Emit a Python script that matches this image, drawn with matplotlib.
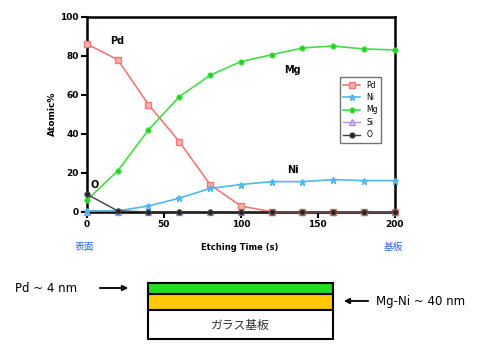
#XPS depth profile of Pd / Mg-Ni thin film on glass, plus layer sketch
import matplotlib.pyplot as plt
from matplotlib.patches import Rectangle

plt.rcParams['font.family'] = ['DejaVu Sans', 'Noto Sans CJK JP']

time = [0, 20, 40, 60, 80, 100, 120, 140, 160, 180, 200]

#----------atomic % per element / read from profile-----------------
Pd = [86, 78, 55, 36, 14, 3, 0, 0, 0, 0, 0]
Ni = [0.5, 0.5, 3, 7, 12, 14, 15.5, 15.5, 16.5, 16, 16]
Mg = [6, 21, 42, 59, 70, 77, 80.5, 84, 85, 83.5, 83]
Si = [0, 0, 0, 0, 0, 0, 0, 0, 0, 0, 0]
O = [9, 0.5, 0, 0, 0, 0, 0, 0, 0, 0, 0]

xticks = [0, 50, 100, 150, 200]
yticks = [0, 20, 40, 60, 80, 100]

fig = plt.figure(figsize=(4.94, 3.49), dpi=100)
ax = fig.add_axes([0.176, 0.393, 0.623, 0.559])

ax.plot(time, Si, marker='^', color='#b48ce8', mfc='#d8c4f4', ms=4, lw=1, label='Si', clip_on=False, zorder=2)
ax.plot(time, Pd, marker='s', color='#f07878', mfc='#f8b0b0', ms=5, lw=1.2, label='Pd', clip_on=False, zorder=3)
ax.plot(time, Ni, marker='*', color='#50b8ea', mfc='#50b8ea', ms=5, lw=1.2, label='Ni', clip_on=False, zorder=3)
ax.plot(time, Mg, marker='o', color='#44dd44', mfc='#22cc22', ms=3.5, lw=1.2, label='Mg', clip_on=False, zorder=3)
ax.plot(time, O, marker='o', color='#404040', mfc='#202020', ms=3.5, lw=1, label='O', clip_on=False, zorder=4)

ax.set_xlim(0, 200)
ax.set_ylim(0, 100)
ax.set_xticks(xticks)
ax.set_yticks(yticks)
for s in ax.spines.values():
    s.set_linewidth(1.8)
ax.tick_params(width=1.5, length=4, labelsize=6.5, pad=2)
for t in ax.get_xticklabels() + ax.get_yticklabels():
    t.set_fontweight('bold')
ax.set_ylabel('Atomic%', fontsize=6.5, fontweight='bold', labelpad=2)

# element names next to the curves
ax.text(15, 86, 'Pd', fontsize=7, fontweight='bold')
ax.text(128, 71, 'Mg', fontsize=7, fontweight='bold')
ax.text(130, 20, 'Ni', fontsize=7, fontweight='bold')
ax.text(2, 12, 'O', fontsize=7, fontweight='bold')

h, l = ax.get_legend_handles_labels()
order = [l.index(k) for k in ['Pd', 'Ni', 'Mg', 'Si', 'O']]
leg = ax.legend([h[i] for i in order], [l[i] for i in order], loc='upper left',
                bbox_to_anchor=(0.81, 0.71), fontsize=5.5, frameon=True, fancybox=False,
                edgecolor='#505050', handlelength=2.2, borderpad=0.45, labelspacing=0.45)
leg.get_frame().set_linewidth(1.0)

# labels under the x axis
fig.text(240 / 494, 1 - 247 / 349, 'Etching Time (s)', fontsize=6, fontweight='bold',
         ha='center', va='center')
fig.text(84 / 494, 1 - 247 / 349, '表面', fontsize=7, color='#3366ee', ha='center', va='center',
         family=['Noto Sans CJK JP', 'DejaVu Sans'])
fig.text(393 / 494, 1 - 247 / 349, '基板', fontsize=7, color='#3366ee', ha='center', va='center',
         family=['Noto Sans CJK JP', 'DejaVu Sans'])

#------layer sketch----------
sk = fig.add_axes([0, 0, 1, 1], zorder=-1)
sk.set_xlim(0, 494)
sk.set_ylim(349, 0)
sk.axis('off')
sk.add_patch(Rectangle((148, 283), 185, 11, facecolor='#22dd22', edgecolor='black', lw=1.5))
sk.add_patch(Rectangle((148, 294), 185, 16, facecolor='#ffc800', edgecolor='black', lw=1.5))
sk.add_patch(Rectangle((148, 310), 185, 29, facecolor='white', edgecolor='black', lw=1.5))
sk.text(240, 325, 'ガラス基板', fontsize=8.5, ha='center', va='center', color='#303030',
        family=['Noto Sans CJK JP', 'DejaVu Sans'])
sk.text(15, 288, 'Pd ~ 4 nm', fontsize=8.5, ha='left', va='center')
sk.annotate('', xy=(131, 288), xytext=(97, 288),
            arrowprops=dict(arrowstyle='-|>', color='black', lw=1.3, mutation_scale=8))
sk.text(376, 301, 'Mg-Ni ~ 40 nm', fontsize=8.5, ha='left', va='center')
sk.annotate('', xy=(341, 301), xytext=(371, 301),
            arrowprops=dict(arrowstyle='-|>', color='black', lw=1.3, mutation_scale=8))

plt.savefig('out.png', dpi=100)
